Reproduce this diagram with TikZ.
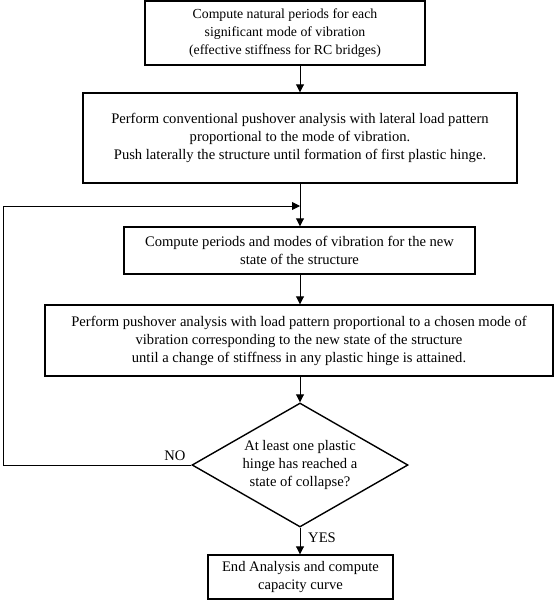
\documentclass[tikz,border=0pt]{standalone}
\usepackage{fontspec}
\setmainfont{Liberation Serif}
\usetikzlibrary{arrows.meta,shapes.geometric}

\begin{document}
\begin{tikzpicture}[
    x=1pt, y=-1pt,
    box/.style={rectangle, draw=black, line width=1.4pt, inner sep=0pt, align=center,
                font=\fontsize{14.6}{18}\selectfont},
    dec/.style={diamond, draw=black, line width=1.4pt, inner sep=-3pt, shape aspect=1.7,
                minimum width=216pt, minimum height=124pt, align=center,
                font=\fontsize{14.6}{18}\selectfont},
    flow/.style={-{Triangle[length=8pt, width=8pt]}, line width=0.9pt},
    tag/.style={font=\fontsize{14.6}{16}\selectfont},
  ]
  \useasboundingbox (0,0) rectangle (554,600);

  % --- boxes, top to bottom
  \node[box, minimum width=280pt, minimum height=64pt, font=\fontsize{13.8}{18}\selectfont]
    (natural) at (285,33)
    {Compute natural periods for each\\significant mode of vibration\\(effective stiffness for RC bridges)};
  \node[box, minimum width=434pt, minimum height=90pt] (pushover) at (300,138)
    {Perform conventional pushover analysis with lateral load pattern\\proportional to the mode of vibration.\\Push laterally the structure until formation of first plastic hinge.};
  \node[box, minimum width=351pt, minimum height=47pt] (periods) at (299.5,250.5)
    {Compute periods and modes of vibration for the new\\state of the structure};
  \node[box, minimum width=508pt, minimum height=71pt] (adaptive) at (299,340.5)
    {Perform pushover analysis with load pattern proportional to a chosen mode of\\vibration corresponding to the new state of the structure\\until a change of stiffness in any plastic hinge is attained.};
  \node[dec] (collapse) at (300,465)
    {At least one plastic\\hinge has reached a\\state of collapse?};
  \node[box, minimum width=185pt, minimum height=44pt] (finish) at (300.5,577)
    {End Analysis and compute\\capacity curve};

  % --- main flow down the spine
  \draw[flow] (natural.south -| collapse.north) -- (pushover.north -| collapse.north);
  \draw[flow] (pushover.south -| collapse.north) -- (periods.north -| collapse.north);
  \draw[flow] (periods.south -| collapse.north) -- (adaptive.north -| collapse.north);
  \draw[flow] (adaptive.south -| collapse.north) -- (collapse.north);
  \draw[flow] (collapse.south) -- (finish.north -| collapse.south);

  % --- loop back when no hinge has collapsed
  \coordinate (loop) at (3,206);
  \coordinate (join) at (300,206);
  \draw[flow] (collapse.west) -| (loop) -- (join);

  \node[tag] (no) at (175,456) {NO};
  \node[tag] (yes) at (322,538) {YES};

\end{tikzpicture}
\end{document}
